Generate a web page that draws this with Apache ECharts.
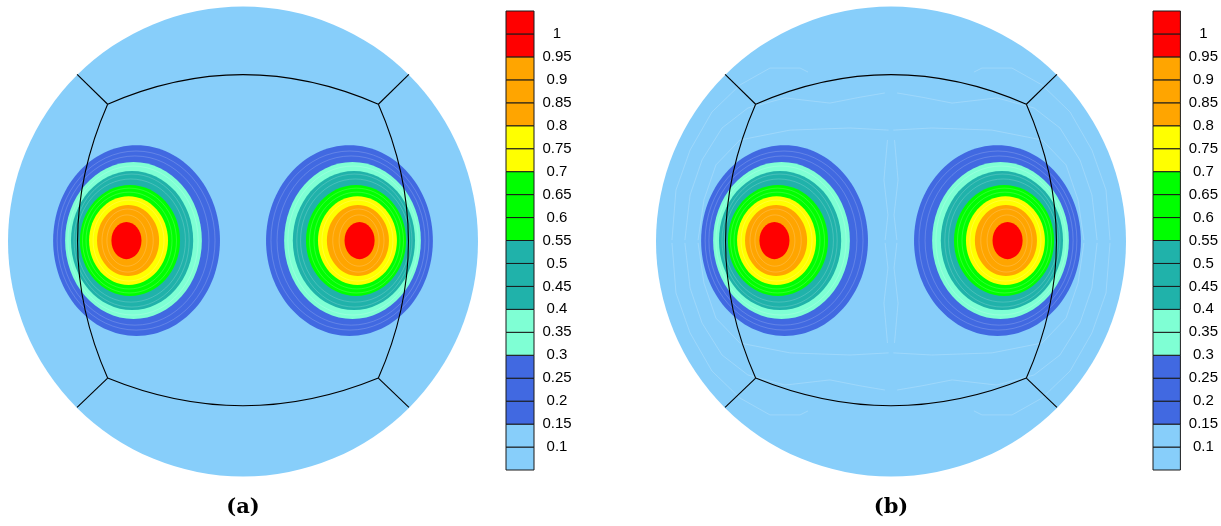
<!DOCTYPE html>
<html><head><meta charset="utf-8">
<script src="https://cdn.jsdelivr.net/npm/echarts@6/dist/echarts.min.js"></script>
<style>html,body{margin:0;padding:0;background:#fff}#c{width:1221px;height:526px}</style>
</head><body><div id="c"></div>
<script>
// ---- contour levels of each blob (left blob; right blob is its mirror image) ----
const levels      = [0.15, 0.2, 0.25, 0.3, 0.35, 0.4, 0.45, 0.5, 0.55, 0.6, 0.65, 0.7, 0.75, 0.8, 0.85, 0.9, 0.95];
const blobCenterX = [-0.453,-0.455,-0.460,-0.466,-0.468,-0.472,-0.474,-0.477,-0.481,-0.483,-0.485,-0.487,-0.487,-0.489,-0.491,-0.494,-0.496];
const blobSemiX   = [0.355,0.336,0.315,0.291,0.277,0.260,0.245,0.232,0.213,0.200,0.183,0.168,0.151,0.132,0.109,0.085,0.064];
const blobSemiY   = [0.406,0.381,0.360,0.334,0.317,0.296,0.283,0.262,0.236,0.223,0.206,0.189,0.172,0.151,0.134,0.109,0.079];
const blobCenterY = 0.004;

// ---- colour bar ----
const cellLow    = [0.05,0.1,0.15,0.2,0.25,0.3,0.35,0.4,0.45,0.5,0.55,0.6,0.65,0.7,0.75,0.8,0.85,0.9,0.95,1.0];
const cellColors = ['#87CEFA','#87CEFA','#4169E1','#4169E1','#4169E1','#7FFFD4','#7FFFD4','#20B2AA','#20B2AA','#20B2AA',
                    '#00FF00','#00FF00','#00FF00','#FFFF00','#FFFF00','#FFA500','#FFA500','#FFA500','#FF0000','#FF0000'];
const tickLabels = ['0.1','0.15','0.2','0.25','0.3','0.35','0.4','0.45','0.5','0.55','0.6','0.65','0.7','0.75','0.8','0.85','0.9','0.95','1'];

// ---- block outline (curved quadrilateral + radial cuts), radius units ----
const corners  = [[-0.576,0.584],[0.576,0.584],[0.576,-0.581],[-0.576,-0.581]];
const arcMids  = [[0,0.710],[0.704,0],[0,-0.699],[-0.704,0]];
const rimEnds  = [[-0.706,0.711],[0.706,0.711],[0.706,-0.706],[-0.706,-0.706]];

// ---- faint numerical contour lines in panel (b), upper-left quadrant (mirrored to others) ----
const faintLines = [
  [[-0.932,0.006],[-0.915,0.219],[-0.855,0.389],[-0.762,0.551],[-0.643,0.666],[-0.515,0.738],[-0.387,0.738],[-0.353,0.721]],
  [[-0.877,0.006],[-0.855,0.198],[-0.804,0.347],[-0.719,0.483],[-0.609,0.568],[-0.451,0.611],[-0.260,0.589],[-0.132,0.614],[-0.026,0.632]],
  [[-0.821,0.006],[-0.796,0.177],[-0.745,0.326],[-0.643,0.432],[-0.430,0.474],[-0.174,0.483],[-0.010,0.474]],
  [[-0.015,0.432],[-0.030,0.262],[-0.013,0.113],[-0.025,0.006]]
];

const BG = '#87CEFA';
function levelColor(l){
  for (let i=0;i<cellLow.length;i++) if (Math.abs(cellLow[i]-l)<1e-6) return cellColors[i];
  return BG;
}

function panelSeries(gi, withFaint){
  const s = [];
  s.push({
    type:'custom', xAxisIndex:gi, yAxisIndex:gi, clip:false, silent:true,
    data:[[0,0]],
    renderItem:function(p, api){
      const c = api.coord([0,0]);
      const r = api.size([1,1]);
      return {type:'circle', shape:{cx:c[0], cy:c[1], r:r[0]}, style:{fill:BG}};
    }
  });
  if (withFaint){
    s.push({
      type:'custom', xAxisIndex:gi, yAxisIndex:gi, clip:false, silent:true,
      data: faintLines.map(l=>l[0]),
      renderItem:function(p, api){
        const pts = faintLines[p.dataIndex];
        const kids = [];
        [[1,1],[-1,1],[1,-1],[-1,-1]].forEach(f=>{
          kids.push({type:'polyline', shape:{points: pts.map(q=>api.coord([q[0]*f[0], q[1]*f[1]]))},
            style:{fill:null, stroke:'rgba(255,255,255,0.28)', lineWidth:0.7}});
        });
        return {type:'group', children:kids};
      }
    });
  }
  s.push({
    type:'custom', xAxisIndex:gi, yAxisIndex:gi, clip:false, silent:true,
    data: levels.map((l,i)=>[blobCenterX[i], blobCenterY]),
    renderItem:function(p, api){
      const i = p.dataIndex;
      const sz = api.size([blobSemiX[i], blobSemiY[i]]);
      const col = levelColor(levels[i]);
      const prev = i>0 ? levelColor(levels[i-1]) : BG;
      const kids = [];
      [1,-1].forEach(sgn=>{
        const c = api.coord([sgn*blobCenterX[i], blobCenterY]);
        kids.push({type:'ellipse', shape:{cx:c[0], cy:c[1], rx:sz[0], ry:sz[1]},
          style:{fill:col, stroke: prev===col ? 'rgba(255,255,255,0.3)' : null, lineWidth:0.6}});
      });
      return {type:'group', children:kids};
    }
  });
  s.push({
    type:'custom', xAxisIndex:gi, yAxisIndex:gi, clip:false, silent:true,
    data: corners.map(c=>c),
    renderItem:function(p, api){
      const i = p.dataIndex;
      const a = api.coord(corners[i]);
      const b = api.coord(corners[(i+1)%4]);
      const m = api.coord(arcMids[i]);
      const e = api.coord(rimEnds[i]);
      const cp = [2*m[0]-(a[0]+b[0])/2, 2*m[1]-(a[1]+b[1])/2];
      return {type:'group', children:[
        {type:'bezierCurve', shape:{x1:a[0],y1:a[1],x2:b[0],y2:b[1],cpx1:cp[0],cpy1:cp[1]},
          style:{fill:null, stroke:'#000', lineWidth:1.1}},
        {type:'line', shape:{x1:a[0],y1:a[1],x2:e[0],y2:e[1]}, style:{stroke:'#000', lineWidth:1.1}}
      ]};
    }
  });
  return s;
}

function cbSeries(gi){
  return {
    type:'custom', xAxisIndex:gi, yAxisIndex:gi, clip:false, silent:true,
    data: cellLow.map(l=>[0.5, l]),
    renderItem:function(p, api){
      const i = p.dataIndex;
      const p1 = api.coord([0, cellLow[i]+0.05]);
      const p2 = api.coord([1, cellLow[i]]);
      return {type:'rect', shape:{x:p1[0], y:p1[1], width:p2[0]-p1[0], height:p2[1]-p1[1]},
        style:{fill:cellColors[i], stroke:'#1a1a1a', lineWidth:1}};
    }
  };
}

const panelAxis = {type:'value', min:-1, max:1, show:false};
const cbX = {type:'value', min:0, max:1, show:false};
function cbY(gi){
  return {type:'value', gridIndex:gi, min:0.05, max:1.05, interval:0.05, position:'right',
    axisLine:{show:false}, axisTick:{show:false}, splitLine:{show:false},
    axisLabel:{show:true, margin:23, align:'center', color:'#000', fontSize:15, fontFamily:'Liberation Sans, Arial, sans-serif',
      formatter:function(v){
        const k = Math.round((v-0.1)/0.05);
        return (k>=0 && k<tickLabels.length) ? tickLabels[k] : '';
      }}
  };
}

const chart = echarts.init(document.getElementById('c'), null, {renderer:'canvas'});
chart.setOption({
  animation:false,
  backgroundColor:'#ffffff',
  grid:[
    {left:8, top:6.5, width:470, height:470},
    {left:656, top:6.5, width:470, height:470},
    {left:506, top:11, width:28, height:459},
    {left:1153, top:11, width:28, height:459}
  ],
  xAxis:[Object.assign({gridIndex:0},panelAxis), Object.assign({gridIndex:1},panelAxis),
         Object.assign({gridIndex:2},cbX), Object.assign({gridIndex:3},cbX)],
  yAxis:[Object.assign({gridIndex:0},panelAxis), Object.assign({gridIndex:1},panelAxis), cbY(2), cbY(3)],
  graphic:[
    {type:'text', x:243, y:508, style:{text:'(a)', font:'bold 21px "DejaVu Serif", serif', fill:'#000', align:'center', verticalAlign:'middle'}},
    {type:'text', x:891, y:508, style:{text:'(b)', font:'bold 21px "DejaVu Serif", serif', fill:'#000', align:'center', verticalAlign:'middle'}}
  ],
  series:[].concat(panelSeries(0,false), panelSeries(1,true), [cbSeries(2), cbSeries(3)])
});
</script></body></html>
